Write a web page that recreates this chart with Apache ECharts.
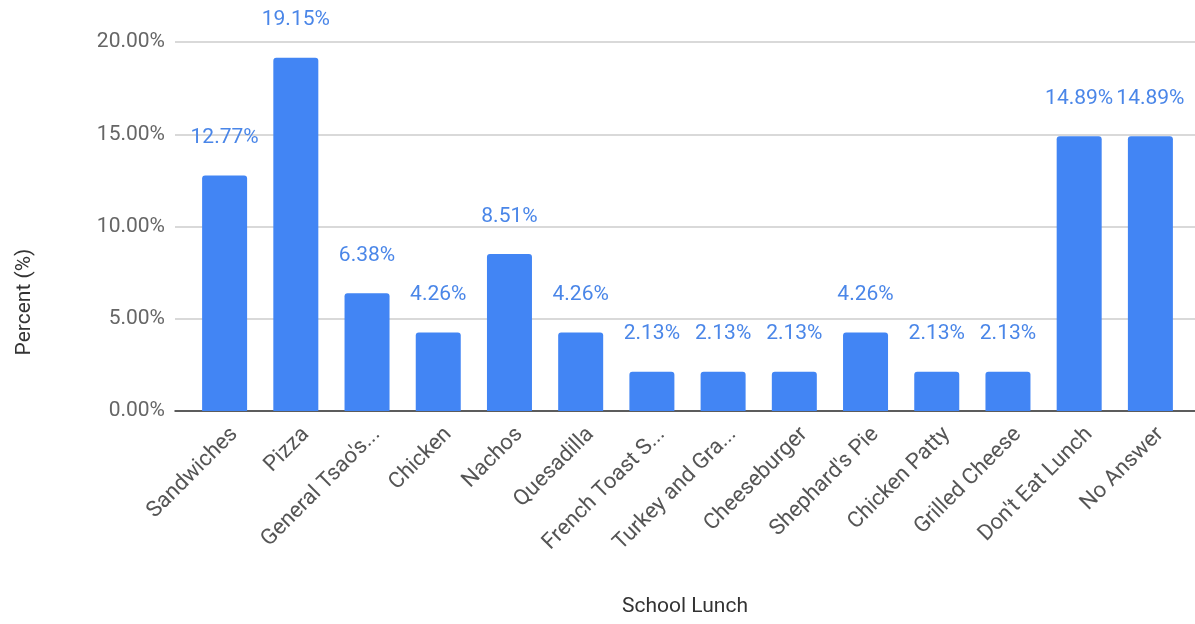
<!DOCTYPE html>
<html><head><meta charset="utf-8">
<script src="https://cdn.jsdelivr.net/npm/echarts@6/dist/echarts.min.js"></script>
<style>html,body{margin:0;padding:0;background:#fff}#c{width:1195px;height:624px}</style>
</head><body><div id="c"></div>
<script>
var categories = ["Sandwiches","Pizza","General Tsao's...","Chicken","Nachos","Quesadilla","French Toast S...","Turkey and Gra...","Cheeseburger","Shephard's Pie","Chicken Patty","Grilled Cheese","Don't Eat Lunch","No Answer"];
var percents = [12.77,19.15,6.38,4.26,8.51,4.26,2.13,2.13,2.13,4.26,2.13,2.13,14.89,14.89];
var yTicks = {min:0, max:20, interval:5};
var xTitle = "School Lunch";
var yTitle = "Percent (%)";

var FONT = 'Roboto';
var chart = echarts.init(document.getElementById('c'));
chart.setOption({
  animation:false,
  grid:[
    {left:175,right:0,top:42,bottom:213,outerBoundsMode:'none',containLabel:false},
    {left:189,right:9,top:42,bottom:213,outerBoundsMode:'none',containLabel:false}
  ],
  xAxis:[
    {gridIndex:0,type:'value',min:0,max:1,
     axisLine:{show:true,lineStyle:{color:'#333',width:1.5}},
     axisTick:{show:false},axisLabel:{show:false},splitLine:{show:false},
     name:xTitle,nameLocation:'middle',nameGap:185,
     nameTextStyle:{fontFamily:FONT,fontSize:21,color:'#333'}},
    {gridIndex:1,type:'category',data:categories,
     axisLine:{show:false},axisTick:{show:false},
     axisLabel:{rotate:45,margin:30,interval:0,padding:[0,-14,0,0],fontFamily:FONT,fontSize:22,color:'#555'}}
  ],
  yAxis:[
    {gridIndex:0,type:'value',min:yTicks.min,max:yTicks.max,interval:yTicks.interval,
     axisLine:{show:false},axisTick:{show:false},
     axisLabel:{margin:10,fontFamily:FONT,fontSize:21,color:'#666',formatter:function(v){return v.toFixed(2)+'%';}},
     splitLine:{lineStyle:{color:'#ccc',width:1.5}}},
    {gridIndex:1,type:'value',min:yTicks.min,max:yTicks.max,interval:yTicks.interval,show:false}
  ],
  graphic:[{type:'text',x:25,y:302,rotation:Math.PI/2,
    style:{text:yTitle,font:'21px '+FONT,fill:'#333',textAlign:'center',textVerticalAlign:'middle'}}],
  series:[{
    type:'bar',xAxisIndex:1,yAxisIndex:1,data:percents,barWidth:45,
    itemStyle:{color:'#4285F4',borderRadius:[3,3,0,0]},
    label:{show:true,position:'top',distance:27,fontFamily:FONT,fontSize:21,color:'#4a86e8',
      formatter:function(p){return p.value.toFixed(2)+'%';}}
  }]
});
</script></body></html>
